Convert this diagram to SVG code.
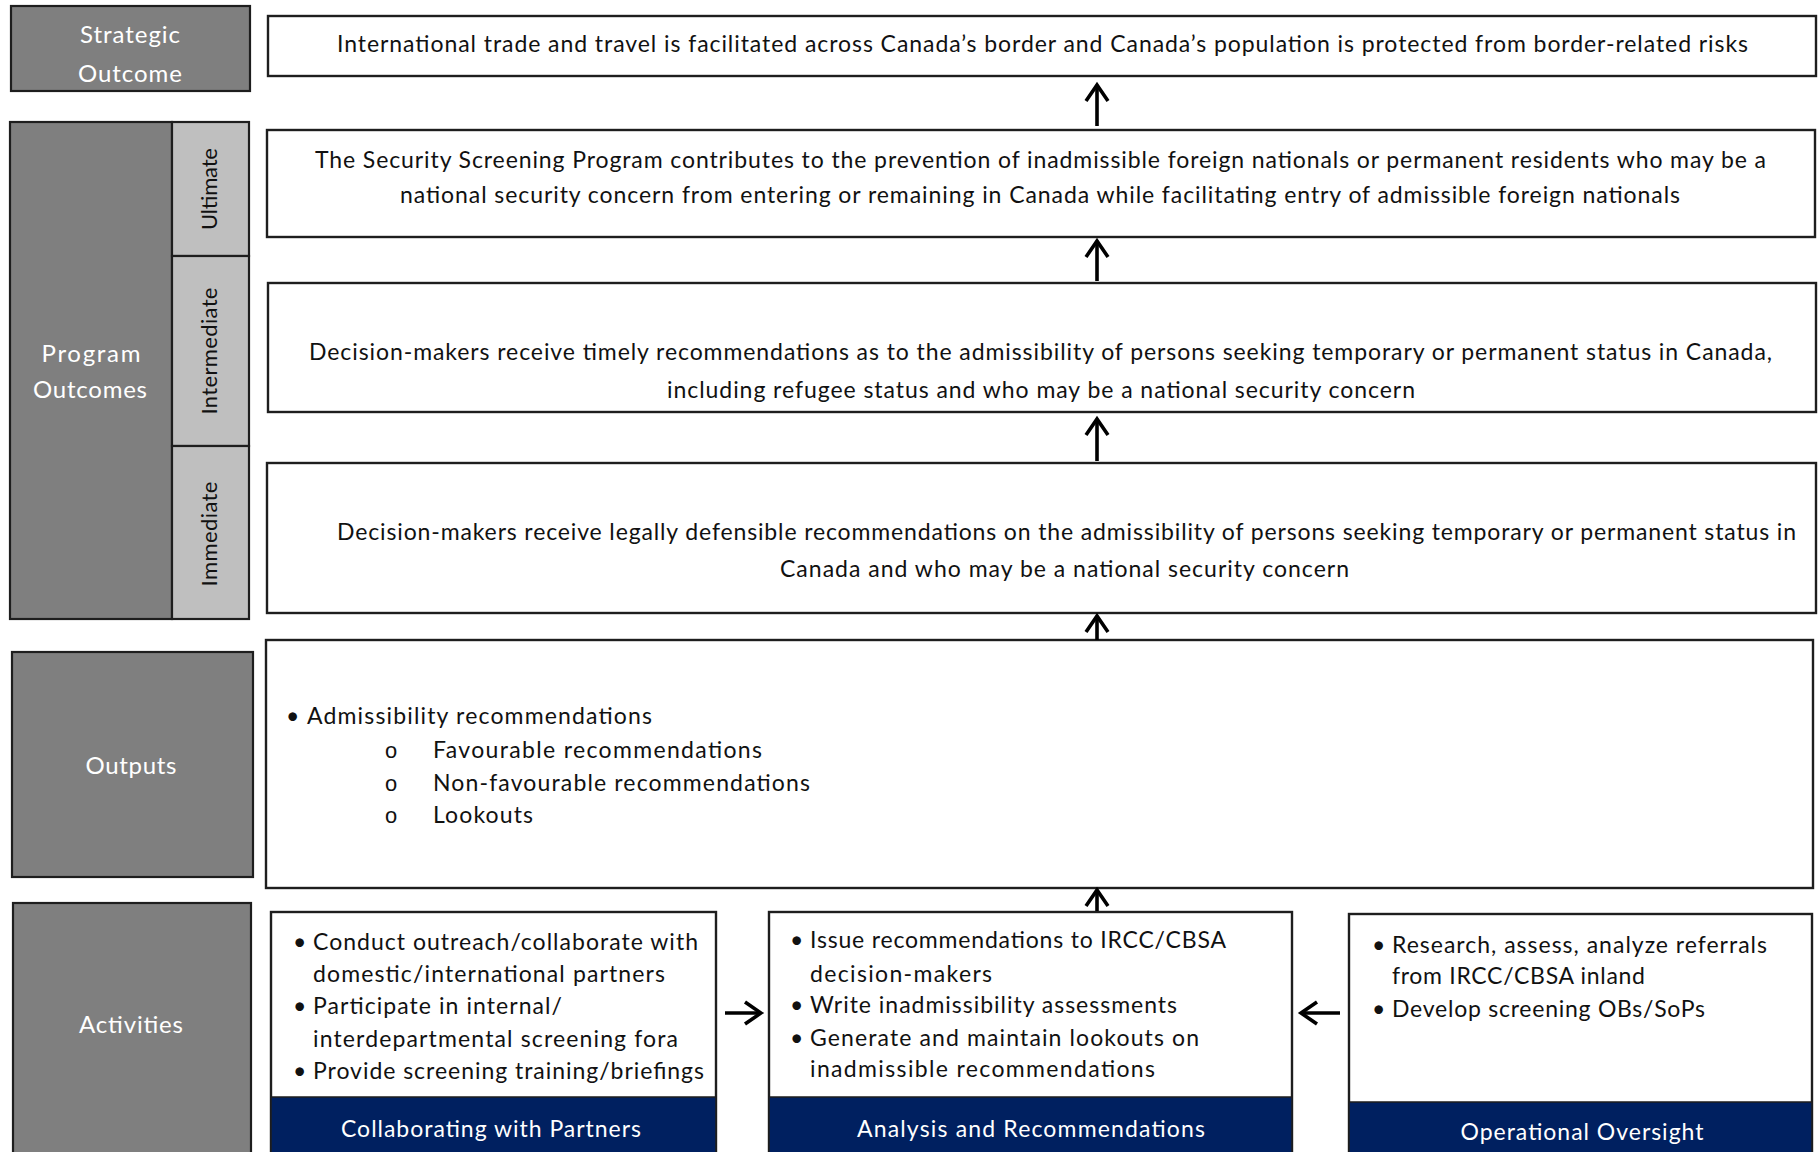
<svg xmlns="http://www.w3.org/2000/svg" width="1818" height="1152" viewBox="0 0 1818 1152">
<defs>
<style>
.lab{fill:#7f7f7f;stroke:#1e1e1e;stroke-width:2.2}
.sub{fill:#bfbfbf;stroke:#1e1e1e;stroke-width:2.2}
.box{fill:#ffffff;stroke:#1e1e1e;stroke-width:2.4}
.navy{fill:#002060;stroke:#1e1e1e;stroke-width:1.5}
.lt{font-family:Lato,"Open Sans","Liberation Sans",sans-serif;font-size:24px;fill:#ffffff;text-anchor:middle}
.rt{font-family:Lato,"Open Sans","Liberation Sans",sans-serif;font-size:22px;fill:#111111;text-anchor:middle}
.t{font-family:Lato,"Open Sans","Liberation Sans",sans-serif;font-size:23px;fill:#111111}
.nt{font-family:Lato,"Open Sans","Liberation Sans",sans-serif;font-size:23px;fill:#ffffff;text-anchor:middle}
.o{font-family:"Liberation Mono",monospace;font-size:22px;fill:#111111;text-anchor:middle}
.ar{fill:none;stroke:#000000;stroke-width:3.6}
</style>
<marker id="ah" markerUnits="userSpaceOnUse" markerWidth="30" markerHeight="30" refX="19" refY="12" orient="auto" overflow="visible">
<path d="M 3 1 L 19 12 L 3 23" fill="none" stroke="#000000" stroke-width="3.6" stroke-linejoin="miter"/>
</marker>
</defs>
<rect x="0" y="0" width="1818" height="1152" fill="#ffffff"/>

<g id="label-strategic">
<rect class="lab" x="11" y="6" width="239" height="85"/>
<text class="lt" x="130" y="43" textLength="100">Strategic</text>
<text class="lt" x="130" y="82" textLength="104">Outcome</text>
</g>

<g id="label-program">
<rect class="lab" x="10" y="122" width="162" height="497"/>
<text class="lt" x="91" y="362" textLength="99">Program</text>
<text class="lt" x="90" y="398" textLength="114">Outcomes</text>
</g>
<g id="label-ultimate">
<rect class="sub" x="172" y="122" width="77" height="134"/>
<text class="rt" transform="translate(217,189) rotate(-90)" textLength="82">Ultimate</text>
</g>
<g id="label-intermediate">
<rect class="sub" x="172" y="256" width="77" height="190"/>
<text class="rt" transform="translate(217,351) rotate(-90)" textLength="127">Intermediate</text>
</g>
<g id="label-immediate">
<rect class="sub" x="172" y="446" width="77" height="173"/>
<text class="rt" transform="translate(217,534) rotate(-90)" textLength="105">Immediate</text>
</g>

<g id="label-outputs">
<rect class="lab" x="12" y="652" width="241" height="225"/>
<text class="lt" x="131" y="774" textLength="91">Outputs</text>
</g>

<g id="label-activities">
<rect class="lab" x="13" y="903" width="238" height="262"/>
<text class="lt" x="131" y="1033" textLength="104">Activities</text>
</g>

<g id="strategic-outcome">
<rect class="box" x="268" y="16" width="1548" height="60"/>
<text class="t" x="337" y="52" textLength="1411">International trade and travel is facilitated across Canada’s border and Canada’s population is protected from border-related risks</text>
</g>

<g id="ultimate-outcome">
<rect class="box" x="267" y="130" width="1548" height="107"/>
<text class="t" x="315" y="168" textLength="1451">The Security Screening Program contributes to the prevention of inadmissible foreign nationals or permanent residents who may be a</text>
<text class="t" x="400" y="203" textLength="1280">national security concern from entering or remaining in Canada while facilitating entry of admissible foreign nationals</text>
</g>

<g id="intermediate-outcome">
<rect class="box" x="268" y="283" width="1548" height="129"/>
<text class="t" x="309" y="360" textLength="1463">Decision-makers receive timely recommendations as to the admissibility of persons seeking temporary or permanent status in Canada,</text>
<text class="t" x="667" y="398" textLength="748">including refugee status and who may be a national security concern</text>
</g>

<g id="immediate-outcome">
<rect class="box" x="267" y="463" width="1549" height="150"/>
<text class="t" x="337" y="540" textLength="1459">Decision-makers receive legally defensible recommendations on the admissibility of persons seeking temporary or permanent status in</text>
<text class="t" x="780" y="577" textLength="569">Canada and who may be a national security concern</text>
</g>

<g id="outputs">
<rect class="box" x="266" y="640" width="1547" height="248"/>
<text class="t" x="286" y="724">•</text>
<text class="t" x="307" y="724" textLength="345">Admissibility recommendations</text>
<text class="o" x="391" y="758">o</text>
<text class="t" x="433" y="758" textLength="329">Favourable recommendations</text>
<text class="o" x="391" y="791">o</text>
<text class="t" x="433" y="791" textLength="377">Non-favourable recommendations</text>
<text class="o" x="391" y="823">o</text>
<text class="t" x="433" y="823" textLength="100">Lookouts</text>
</g>

<g id="activity-collaborating">
<rect class="box" x="271" y="912" width="445" height="252"/>
<rect class="navy" x="271" y="1097" width="445" height="67"/>
<text class="t" x="293" y="950">•</text>
<text class="t" x="313" y="950" textLength="385">Conduct outreach/collaborate with</text>
<text class="t" x="313" y="982" textLength="352">domestic/international partners</text>
<text class="t" x="293" y="1014">•</text>
<text class="t" x="313" y="1014" textLength="249">Participate in internal/</text>
<text class="t" x="313" y="1047" textLength="365">interdepartmental screening fora</text>
<text class="t" x="293" y="1079">•</text>
<text class="t" x="313" y="1079" textLength="391">Provide screening training/briefings</text>
<text class="nt" x="491" y="1137" textLength="300">Collaborating with Partners</text>
</g>

<g id="activity-analysis">
<rect class="box" x="769" y="912" width="523" height="252"/>
<rect class="navy" x="769" y="1097" width="523" height="67"/>
<text class="t" x="790" y="948">•</text>
<text class="t" x="810" y="948" textLength="416">Issue recommendations to IRCC/CBSA</text>
<text class="t" x="810" y="982" textLength="182">decision-makers</text>
<text class="t" x="790" y="1013">•</text>
<text class="t" x="810" y="1013" textLength="367">Write inadmissibility assessments</text>
<text class="t" x="790" y="1046">•</text>
<text class="t" x="810" y="1046" textLength="389">Generate and maintain lookouts on</text>
<text class="t" x="810" y="1077" textLength="345">inadmissible recommendations</text>
<text class="nt" x="1031" y="1137" textLength="348">Analysis and Recommendations</text>
</g>

<g id="activity-oversight">
<rect class="box" x="1349" y="914" width="463" height="250"/>
<rect class="navy" x="1349" y="1102" width="463" height="62"/>
<text class="t" x="1372" y="953">•</text>
<text class="t" x="1392" y="953" textLength="375">Research, assess, analyze referrals</text>
<text class="t" x="1392" y="984" textLength="253">from IRCC/CBSA inland</text>
<text class="t" x="1372" y="1017">•</text>
<text class="t" x="1392" y="1017" textLength="313">Develop screening OBs/SoPs</text>
<text class="nt" x="1582" y="1140" textLength="243">Operational Oversight</text>
</g>

<g id="connectors">
<line class="ar" x1="1097" y1="126" x2="1097" y2="85" marker-end="url(#ah)"/>
<line class="ar" x1="1097" y1="281" x2="1097" y2="241" marker-end="url(#ah)"/>
<line class="ar" x1="1097" y1="461" x2="1097" y2="419" marker-end="url(#ah)"/>
<line class="ar" x1="1097" y1="640" x2="1097" y2="616" marker-end="url(#ah)"/>
<line class="ar" x1="1097" y1="911" x2="1097" y2="890" marker-end="url(#ah)"/>
<line class="ar" x1="725" y1="1013" x2="761" y2="1013" marker-end="url(#ah)"/>
<line class="ar" x1="1340" y1="1013" x2="1301" y2="1013" marker-end="url(#ah)"/>
</g>
</svg>
